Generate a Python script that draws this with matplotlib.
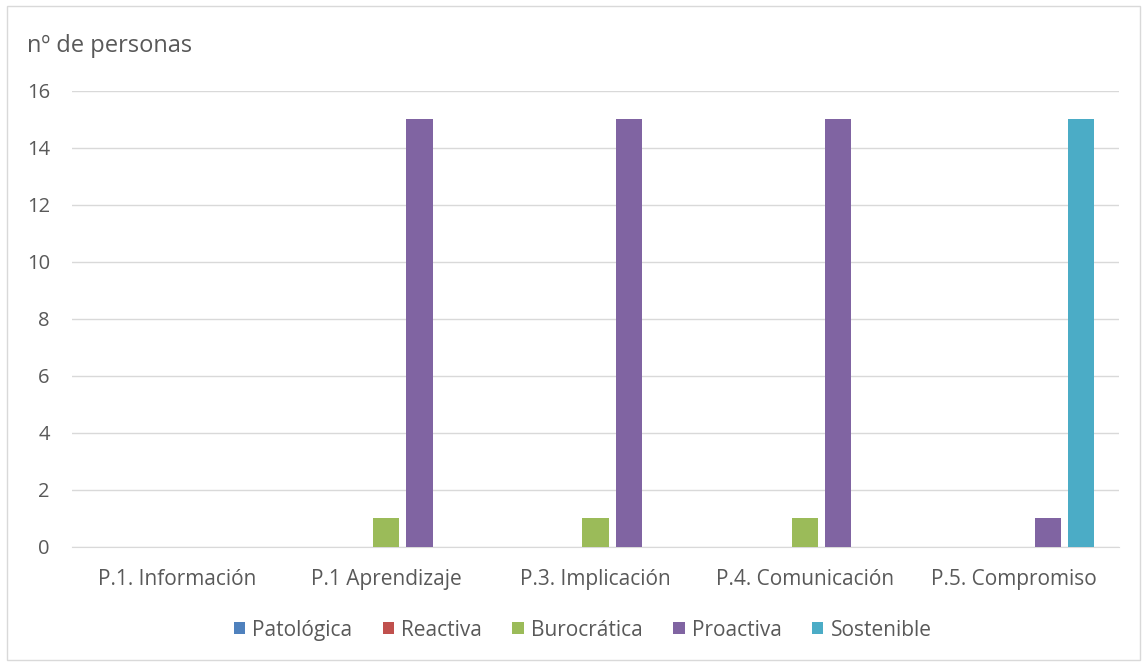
import matplotlib
matplotlib.use("Agg")
import matplotlib.pyplot as plt
import numpy as np
from matplotlib.patches import Rectangle

categories = ["P.1. Información", "P.1 Aprendizaje", "P.3. Implicación", "P.4. Comunicación", "P.5. Compromiso"]
series = ["Patológica", "Reactiva", "Burocrática", "Proactiva", "Sostenible"]
patologica = [0, 0, 0, 0, 0]
reactiva = [0, 0, 0, 0, 0]
burocratica = [0, 1, 1, 1, 0]
proactiva = [0, 15, 15, 15, 1]
sostenible = [0, 0, 0, 0, 15]
colors = ["#4F81BD", "#C0504D", "#9BBB59", "#8064A2", "#4BACC6"]
yticks = [0, 2, 4, 6, 8, 10, 12, 14, 16]

plt.rcParams['font.family'] = ['Open Sans', 'DejaVu Sans']
text_color = "#595959"

fig = plt.figure(figsize=(11.47, 6.66), dpi=100)
fig.patches.append(Rectangle((0.006, 0.009), 0.988, 0.982, transform=fig.transFigure,
                             fill=False, edgecolor="#D9D9D9", linewidth=1))
ax = fig.add_axes([0.0628, 0.1787, 0.9128, 0.6847])

data = [patologica, reactiva, burocratica, proactiva, sostenible]
x = np.arange(len(categories))
step = 0.159
width = 0.125
for i, (name, vals, c) in enumerate(zip(series, data, colors)):
    ax.bar(x + (i - 2) * step, vals, width, color=c, label=name, zorder=3)

ax.set_xlim(-0.5, len(categories) - 0.5)
ax.set_ylim(0, 16)
ax.set_yticks(yticks)
ax.grid(axis='y', color="#D9D9D9", linewidth=1, zorder=0)
ax.set_xticks(x)
ax.set_xticklabels(categories)
for s in ["top", "right", "left"]:
    ax.spines[s].set_visible(False)
ax.spines["bottom"].set_color("#D9D9D9")
ax.tick_params(axis='both', length=0, colors=text_color)
ax.tick_params(axis='y', labelsize=14.5, pad=16)
ax.tick_params(axis='x', labelsize=15, pad=16)

fig.text(0.0235, 0.931, "nº de personas", fontsize=17, color=text_color, ha='left', va='center')

leg = fig.legend(loc='center', bbox_to_anchor=(0.508, 0.054), ncol=5, frameon=False,
                 fontsize=15, handlelength=0.55, handleheight=0.55, handletextpad=0.35,
                 columnspacing=1.45, labelcolor=text_color)

fig.savefig("out.png", dpi=100)
